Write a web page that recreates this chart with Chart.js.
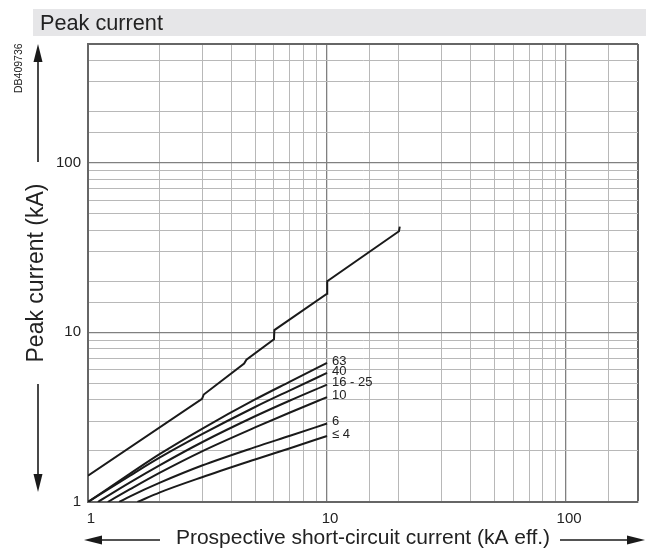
<!DOCTYPE html>
<html><head><meta charset="utf-8">
<script src="https://cdn.jsdelivr.net/npm/chart.js@4.4.1/dist/chart.umd.min.js"></script>
<style>html,body{margin:0;padding:0;background:#fff;overflow:hidden}</style>
</head><body>
<canvas id="c" width="646" height="553" style="display:block;width:646px;height:553px"></canvas>
<script>
// ---- data ----
const headerText = 'Peak current';
const xTitle = 'Prospective short-circuit current (kA eff.)';
const yTitle = 'Peak current (kA)';
const xTickLabels = [1, 10, 100];
const yTickLabels = [1, 10, 100];
const curveLabels = ['63', '40', '16 - 25', '10', '6', '\u2264 4'];

// unlimited peak (upper) curve
const peakX = [1, 3, 3.05, 4.5, 4.6, 6, 6.02, 10, 10.02, 20, 20.15];
const peakY = [1.43, 4.05, 4.3, 6.55, 6.9, 9.1, 10.3, 16.9, 20.0, 39.4, 42];

// limited curves by rating
const c63X = [1, 1.5, 2, 3, 5, 7, 10];
const c63Y = [1.0, 1.47, 1.92, 2.70, 4.02, 5.12, 6.6];
const c40X = [1, 1.5, 2, 3, 5, 7, 10];
const c40Y = [1.0, 1.43, 1.83, 2.51, 3.63, 4.55, 5.76];
const c25X = [1.1, 1.5, 2, 3, 5, 7, 10];
const c25Y = [1.0, 1.305, 1.65, 2.25, 3.2, 3.965, 4.92];
const c10X = [1.21, 1.5, 2, 3, 5, 7, 10];
const c10Y = [1.0, 1.19, 1.49, 1.99, 2.75, 3.37, 4.15];
const c6X = [1.35, 1.5, 2, 3, 5, 7, 10];
const c6Y = [1.0, 1.08, 1.30, 1.64, 2.105, 2.457, 2.9];
const c4X = [1.61, 2, 3, 5, 7, 10];
const c4Y = [1.0, 1.14, 1.40, 1.78, 2.075, 2.45];

const pts = (xs, ys) => xs.map((x, i) => ({x, y: ys[i]}));
const FONT = '"Liberation Sans", Arial, sans-serif';

const lowerSets = [[c63X, c63Y], [c40X, c40Y], [c25X, c25Y], [c10X, c10Y], [c6X, c6Y], [c4X, c4Y]];
const datasets = [{
  data: pts(peakX, peakY), borderColor: '#1a1a1a', borderWidth: 2, pointRadius: 0, tension: 0, fill: false
}].concat(lowerSets.map((s, i) => ({
  label: curveLabels[i], data: pts(s[0], s[1]), borderColor: '#1a1a1a', borderWidth: 2,
  pointRadius: 0, cubicInterpolationMode: 'monotone', fill: false
})));

function isDecade(v) { const l = Math.log10(v); return Math.abs(l - Math.round(l)) < 1e-9; }

function arrowHead(ctx, tx, ty, dx, dy) {
  const L = 18, W = 4.5;
  const bx = tx - dx * L, by = ty - dy * L;
  ctx.beginPath();
  ctx.moveTo(tx, ty);
  ctx.lineTo(bx - dy * W, by + dx * W);
  ctx.lineTo(bx + dy * W, by - dx * W);
  ctx.closePath();
  ctx.fill();
}

const decor = {
  id: 'decor',
  beforeDraw(chart) {
    const ctx = chart.ctx;
    ctx.save();
    ctx.fillStyle = '#e6e6e8';
    ctx.fillRect(33, 9, 613, 27);
    ctx.fillStyle = '#222';
    ctx.font = '21.7px ' + FONT;
    ctx.textBaseline = 'alphabetic';
    ctx.textAlign = 'left';
    ctx.fillText(headerText, 40, 29.5);
    ctx.restore();
  },
  afterDraw(chart) {
    const ctx = chart.ctx;
    ctx.save();
    ctx.strokeStyle = '#1a1a1a';
    ctx.fillStyle = '#1a1a1a';
    ctx.lineWidth = 1.6;
    ctx.beginPath(); ctx.moveTo(38, 162); ctx.lineTo(38, 58); ctx.stroke();
    arrowHead(ctx, 38, 44, 0, -1);
    ctx.beginPath(); ctx.moveTo(38, 384); ctx.lineTo(38, 478); ctx.stroke();
    arrowHead(ctx, 38, 492, 0, 1);
    ctx.beginPath(); ctx.moveTo(160, 540); ctx.lineTo(98, 540); ctx.stroke();
    arrowHead(ctx, 84, 540, -1, 0);
    ctx.beginPath(); ctx.moveTo(560, 540); ctx.lineTo(630, 540); ctx.stroke();
    arrowHead(ctx, 645, 540, 1, 0);
    ctx.save();
    ctx.translate(22, 93);
    ctx.rotate(-Math.PI / 2);
    ctx.font = '10.5px ' + FONT;
    ctx.fillStyle = '#222';
    ctx.fillText('DB409736', 0, 0);
    ctx.restore();
    const xs = chart.scales.x, ys = chart.scales.y;
    ctx.font = '13px ' + FONT;
    ctx.fillStyle = '#222';
    ctx.textBaseline = 'middle';
    lowerSets.forEach((s, i) => {
      const n = s[0].length - 1;
      const px = xs.getPixelForValue(s[0][n]);
      const py = ys.getPixelForValue(s[1][n]);
      ctx.fillText(curveLabels[i], px + 5, py - 2);
    });
    ctx.restore();
  }
};

const gridColor = (max) => (c) => {
  const v = c.tick && c.tick.value;
  if (v === max) return '#666';
  return isDecade(v) ? '#808080' : '#b8b8b8';
};
const gridWidth = (max) => (c) => {
  const v = c.tick && c.tick.value;
  if (v === max) return 2;
  return isDecade(v) ? 1.3 : 1;
};

new Chart(document.getElementById('c'), {
  type: 'line',
  data: { datasets },
  plugins: [decor],
  options: {
    responsive: false, animation: false,
    layout: { padding: { left: 0, right: 3, top: 44, bottom: 0 } },
    plugins: { legend: { display: false }, tooltip: { enabled: false }, title: { display: false } },
    scales: {
      x: {
        type: 'logarithmic', min: 1, max: 200, position: 'bottom',
        afterFit: (s) => { s.height = 51; },
        grid: { color: gridColor(200), lineWidth: gridWidth(200), drawTicks: false },
        border: { color: '#666', width: 2 },
        ticks: { autoSkip: false, maxRotation: 0, minRotation: 0, padding: 8, labelOffset: 3, color: '#222',
          font: { family: FONT, size: 15 },
          callback: (v) => xTickLabels.includes(v) ? String(v) : '' },
        title: { display: true, text: xTitle, color: '#222', font: { family: FONT, size: 21 },
          padding: { top: 0, bottom: 2 } }
      },
      y: {
        type: 'logarithmic', min: 1, max: 500, position: 'left',
        afterFit: (s) => { s.width = 88; },
        grid: { color: gridColor(500), lineWidth: gridWidth(500), drawTicks: false },
        border: { color: '#666', width: 2 },
        ticks: { autoSkip: false, padding: 7, color: '#222',
          font: { family: FONT, size: 15 },
          callback: (v) => yTickLabels.includes(v) ? String(v) : '' },
        title: { display: true, text: yTitle, color: '#222', font: { family: FONT, size: 23 },
          padding: { top: 23, bottom: 0 } }
      }
    }
  }
});
</script>
</body></html>
